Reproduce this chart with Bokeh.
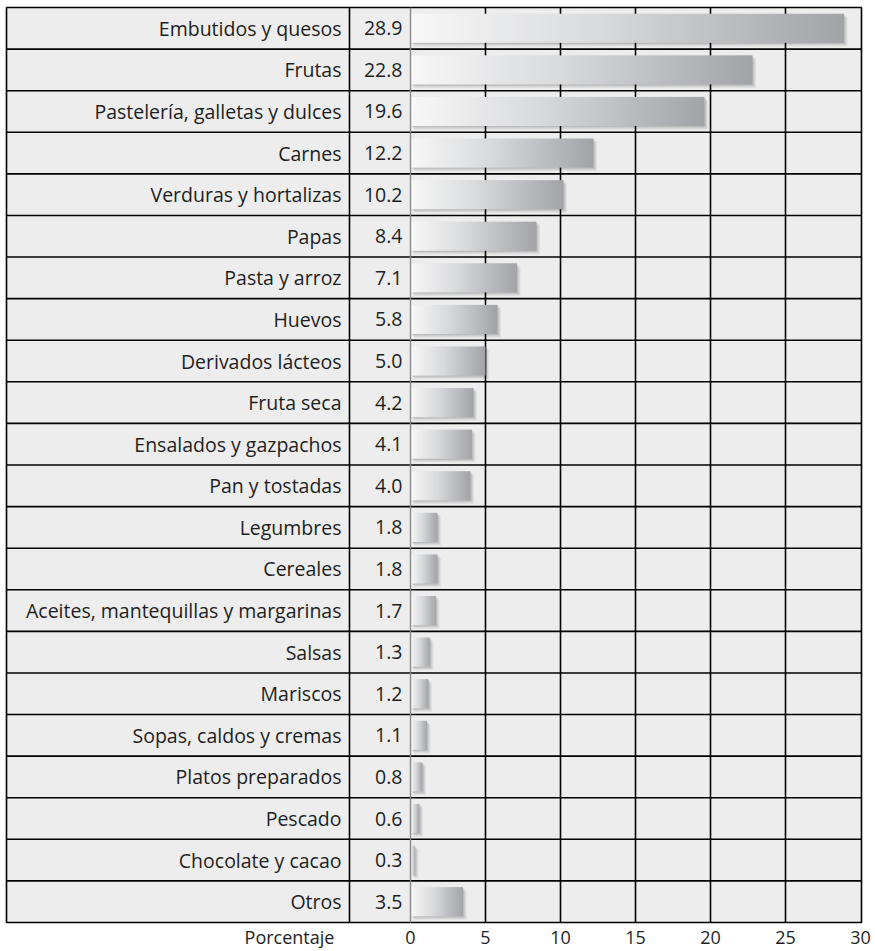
import numpy as np
from bokeh.plotting import figure
from bokeh.models import Range1d, FixedTicker
from bokeh.core.properties import value
from bokeh.embed import file_html
from bokeh.resources import INLINE

# Food groups and their share (%)
categories = [
    "Embutidos y quesos", "Frutas", "Pastelería, galletas y dulces", "Carnes",
    "Verduras y hortalizas", "Papas", "Pasta y arroz", "Huevos",
    "Derivados lácteos", "Fruta seca", "Ensalados y gazpachos", "Pan y tostadas",
    "Legumbres", "Cereales", "Aceites, mantequillas y margarinas", "Salsas",
    "Mariscos", "Sopas, caldos y cremas", "Platos preparados", "Pescado",
    "Chocolate y cacao", "Otros",
]
values = [28.9, 22.8, 19.6, 12.2, 10.2, 8.4, 7.1, 5.8, 5.0, 4.2, 4.1, 4.0,
          1.8, 1.8, 1.7, 1.3, 1.2, 1.1, 0.8, 0.6, 0.3, 3.5]
x_ticks = [0, 5, 10, 15, 20, 25, 30]
x_title = "Porcentaje"

FONT = "Open Sans"
TEXT_COLOR = "#1e1e1e"
n = len(categories)
px = 15.0                      # pixels per percentage unit
x_left = -404 / px             # table starts left of the zero line
label_x = -69 / px             # right edge of the category column
divider_x = -61 / px           # line between category and value columns
value_x = -8 / px              # right edge of the value column
title_x = -121 / px            # centre of the axis title, left of the zero tick

p = figure(width=875, height=951, output_backend="svg", toolbar_location=None,
           x_range=Range1d(x_left, 30 + 1 / px), y_range=Range1d(0, n),
           min_border_left=6, min_border_right=14, min_border_top=7,
           min_border_bottom=29)
p.background_fill_color = "#ededed"
p.border_fill_color = "white"
p.outline_line_color = "black"
p.outline_line_width = 1.6
p.grid.visible = False
p.yaxis.visible = False

# x axis: numeric ticks plus the axis title sitting in the label column
ax = p.xaxis[0]
ax.ticker = FixedTicker(ticks=[title_x] + x_ticks)
ax.major_label_overrides = {title_x: x_title}
ax.axis_line_color = None
ax.major_tick_line_color = None
ax.minor_tick_line_color = None
ax.major_tick_out = 0
ax.major_tick_in = 0
ax.major_label_standoff = 2
ax.major_label_text_font = FONT
ax.major_label_text_font_size = "18px"
ax.major_label_text_color = TEXT_COLOR

ypos = [n - 1 - i + 0.5 for i in range(n)]

# table rules: row separators across the full width
row_lines = list(range(1, n))
p.segment(x0=[x_left] * len(row_lines), x1=[31] * len(row_lines),
          y0=row_lines, y1=row_lines, line_color="black", line_width=1.6)
# vertical grid inside the bar area
grid_x = x_ticks[1:-1]
p.segment(x0=grid_x, x1=grid_x, y0=[0] * len(grid_x), y1=[n] * len(grid_x),
          line_color="black", line_width=1.6)
p.segment(x0=[divider_x], x1=[divider_x], y0=[0], y1=[n],
          line_color="black", line_width=1.6)

# soft shadow under each bar
bar_h = 0.70
for k, a in enumerate([0.09, 0.07, 0.05]):
    off = (k + 1) * 1.2
    p.quad(left=[off / px] * n, right=[v + off / px for v in values],
           bottom=[y - bar_h / 2 - off / 41.6 for y in ypos],
           top=[y + bar_h / 2 - off / 41.6 for y in ypos],
           fill_color="black", fill_alpha=a, line_color=None)

# bars with a light-to-grey horizontal gradient
N = 256
t = np.linspace(0, 1, N)[:, None]
c0 = np.array([248, 248, 248])
c1 = np.array([216, 217, 219])
c2 = np.array([163, 164, 167])
cols = np.where(t < 0.45, c0 + (c1 - c0) * (t / 0.45),
                c1 + (c2 - c1) * ((t - 0.45) / 0.55))
rgba = np.zeros((1, N), dtype=np.uint32)
view = rgba.view(dtype=np.uint8).reshape((1, N, 4))
view[0, :, :3] = cols.astype(np.uint8)
view[0, :, 3] = 255
p.image_rgba(image=[rgba] * n, x=[0] * n, y=[y - bar_h / 2 for y in ypos],
             dw=values, dh=[bar_h] * n)

# zero line
p.segment(x0=[0], x1=[0], y0=[-0.3], y1=[n], line_color="#8a8a8a", line_width=1.4)

# category names and values
p.text(x=[label_x] * n, y=ypos, text=categories, text_align="right",
       text_baseline="middle", text_font=value(FONT), text_font_size="19.5px",
       text_color=TEXT_COLOR)
p.text(x=[value_x] * n, y=ypos, text=[f"{v:.1f}" for v in values],
       text_align="right", text_baseline="middle", text_font=value(FONT),
       text_font_size="19.5px", text_color=TEXT_COLOR)

open("out.html", "w").write(file_html(p, INLINE))
